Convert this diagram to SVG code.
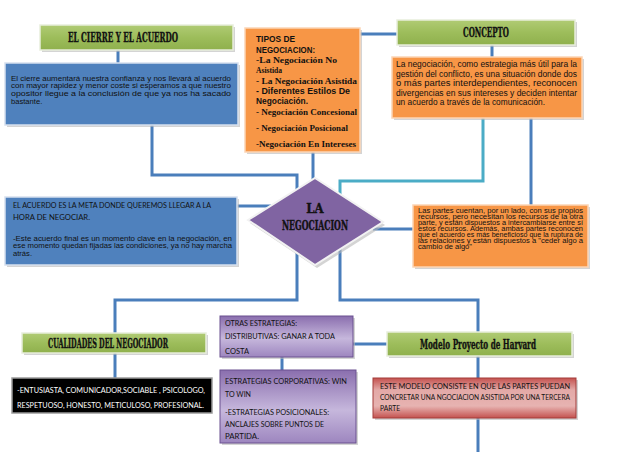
<svg xmlns="http://www.w3.org/2000/svg" width="638" height="452" viewBox="0 0 638 452">
<defs>
<linearGradient id="gGreen" x1="0" y1="0" x2="0" y2="1">
<stop offset="0" stop-color="#b0cb74"/><stop offset="0.5" stop-color="#9dbd5b"/><stop offset="1" stop-color="#8fb04d"/>
</linearGradient>
<linearGradient id="gPurple" x1="0" y1="0" x2="0" y2="1">
<stop offset="0" stop-color="#8a6eae"/><stop offset="0.55" stop-color="#c6b7dc"/><stop offset="1" stop-color="#9d86bf"/>
</linearGradient>
<linearGradient id="gRed" x1="0" y1="0" x2="0" y2="1">
<stop offset="0" stop-color="#c4524f"/><stop offset="0.3" stop-color="#e3a9a7"/><stop offset="0.7" stop-color="#e7b3b1"/><stop offset="1" stop-color="#c4524f"/>
</linearGradient>
</defs>
<style>
.sh{fill:#b8b8b8;opacity:0.6}
.green{fill:url(#gGreen);stroke:#e8eedc;stroke-width:1.5}
.blue{fill:#4f81bd;stroke:#d6e0ee;stroke-width:1.5}
.orange{fill:#f79646;stroke:#fcd5b5;stroke-width:1.5}
.purple{fill:url(#gPurple);stroke:#6a5190;stroke-width:1}
.red{fill:url(#gRed);stroke:#a33d3a;stroke-width:1}
.black{fill:#000;stroke:#9a9a9a;stroke-width:1.5}
.title{font-family:"DejaVu Serif Condensed","DejaVu Serif","Liberation Serif",serif;font-weight:bold;font-stretch:condensed;fill:#111;stroke:#111;stroke-width:0.35;text-anchor:middle}
.sans{font-family:"Liberation Sans",Arial,sans-serif;fill:#111}
.sansb{font-family:"Liberation Sans",Arial,sans-serif;font-weight:bold;fill:#111}
.serb{font-family:"Liberation Serif","Times New Roman",serif;font-weight:bold;fill:#111}
.cal{font-family:Lato,"Open Sans",sans-serif;fill:#111}
.calw{font-family:Lato,"Open Sans",sans-serif;fill:#fff}
.con{fill:none;stroke:#4a7ebb;stroke-width:3}
.cyan{fill:none;stroke:#4bacc6;stroke-width:3}
</style>

<g id="connectors">
<path class="con" d="M118,50 V63"/>
<path class="con" d="M152,125 V175 H297 V190"/>
<path class="con" d="M237,206 H271"/>
<path class="con" d="M313,152 V180"/>
<path class="con" d="M360,34 H397"/>
<path class="con" d="M492,45 V57"/>
<path class="cyan" d="M483,118 V181 H340 V195"/>
<path class="con" d="M531,118 V205"/>
<path class="con" d="M373,229 H413"/>
<path class="con" d="M297,253 V300 H115 V333"/>
<path class="con" d="M340,249 V300 H478 V332"/>
<path class="con" d="M115,353 V378"/>
<path class="con" d="M282,357 V370"/>
<path class="con" d="M353,344 H387"/>
<path class="con" d="M478,356 V378"/>
<path class="con" d="M478,418 V452"/>
</g>

<g id="cierre-title">
<rect class="sh" x="42" y="27" width="193" height="25"/>
<rect class="green" x="40" y="25" width="193" height="25"/>
<text class="title" x="123" y="42" font-size="13" textLength="110" lengthAdjust="spacingAndGlyphs">EL CIERRE Y EL ACUERDO</text>
</g>

<g id="cierre-text">
<rect class="sh" x="7" y="65" width="233" height="62"/>
<rect class="blue" x="5" y="63" width="233" height="62"/>
<text class="sans" font-size="7.6">
<tspan x="11" y="80.5" textLength="220" lengthAdjust="spacingAndGlyphs">El cierre aumentará nuestra confianza y nos llevará al acuerdo</tspan>
<tspan x="11" y="88" textLength="220" lengthAdjust="spacingAndGlyphs">con mayor rapidez y menor coste si esperamos a que nuestro</tspan>
<tspan x="11" y="95.5" textLength="220" lengthAdjust="spacingAndGlyphs">opositor llegue a la conclusión de que ya nos ha sacado</tspan>
<tspan x="11" y="103.5">bastante.</tspan>
</text>
</g>

<g id="tipos">
<rect class="sh" x="247" y="30" width="115" height="124"/>
<rect class="orange" x="245" y="28" width="115" height="124"/>
<text class="sansb" font-size="9.6" x="256" y="42" textLength="39" lengthAdjust="spacingAndGlyphs">TIPOS DE</text>
<text class="sansb" font-size="9.6" x="256" y="53" textLength="59" lengthAdjust="spacingAndGlyphs">NEGOCIACION:</text>
<text class="serb" font-size="9" x="256" y="63" textLength="81" lengthAdjust="spacingAndGlyphs">-La Negociación No</text>
<text class="serb" font-size="9" x="256" y="73" textLength="26" lengthAdjust="spacingAndGlyphs">Asistida</text>
<text class="serb" font-size="9" x="256" y="83.5" textLength="101" lengthAdjust="spacingAndGlyphs">- La Negociación Asistida</text>
<text class="sansb" font-size="9" x="256" y="94" textLength="94" lengthAdjust="spacingAndGlyphs">- Diferentes Estilos De</text>
<text class="sansb" font-size="9" x="256" y="104" textLength="52" lengthAdjust="spacingAndGlyphs">Negociación.</text>
<text class="serb" font-size="9" x="256" y="114.5" textLength="101" lengthAdjust="spacingAndGlyphs">- Negociación Concesional</text>
<text class="serb" font-size="9" x="256" y="131" textLength="92" lengthAdjust="spacingAndGlyphs">- Negociación Posicional</text>
<text class="serb" font-size="9" x="256" y="147" textLength="100" lengthAdjust="spacingAndGlyphs">-Negociación En Intereses</text>
</g>

<g id="concepto-title">
<rect class="sh" x="399" y="22" width="178" height="25"/>
<rect class="green" x="397" y="20" width="178" height="25"/>
<text class="title" x="486" y="36.5" font-size="13" textLength="46" lengthAdjust="spacingAndGlyphs">CONCEPTO</text>
</g>

<g id="concepto-text">
<rect class="sh" x="394" y="59" width="190" height="61"/>
<rect class="orange" x="392" y="57" width="190" height="61"/>
<text class="sans" font-size="8.4">
<tspan x="396" y="67" textLength="181" lengthAdjust="spacingAndGlyphs">La negociación, como estrategia más útil para la</tspan>
<tspan x="396" y="76.5" textLength="181" lengthAdjust="spacingAndGlyphs">gestión del conflicto, es una situación donde dos</tspan>
<tspan x="396" y="86" textLength="181" lengthAdjust="spacingAndGlyphs">o más partes interdependientes, reconocen</tspan>
<tspan x="396" y="95.5" textLength="181" lengthAdjust="spacingAndGlyphs">divergencias en sus intereses y deciden intentar</tspan>
<tspan x="396" y="105" textLength="149" lengthAdjust="spacingAndGlyphs">un acuerdo a través de la comunicación.</tspan>
</text>
</g>

<g id="acuerdo-meta">
<rect class="sh" x="7" y="199" width="232" height="68"/>
<rect class="blue" x="5" y="197" width="232" height="68"/>
<text class="cal" font-size="7.2" x="13" y="207.5" textLength="198" lengthAdjust="spacingAndGlyphs">EL ACUERDO ES LA META DONDE QUEREMOS LLEGAR A LA</text>
<text class="cal" font-size="7.2" x="13" y="219.5" textLength="77" lengthAdjust="spacingAndGlyphs">HORA DE NEGOCIAR.</text>
<text class="sans" font-size="7.6">
<tspan x="13" y="240.5" textLength="219" lengthAdjust="spacingAndGlyphs">-Este acuerdo final es un momento clave en la negociación, en</tspan>
<tspan x="13" y="248" textLength="219" lengthAdjust="spacingAndGlyphs">ese momento quedan fijadas las condiciones, ya no hay marcha</tspan>
<tspan x="13" y="256">atrás.</tspan>
</text>
</g>

<g id="la-negociacion">
<polygon points="250,223 317,181 385,225 317,268" fill="#b8b8b8" opacity="0.6"/>
<polygon points="248,220 315,178 383,222 315,265" fill="#8064a2" stroke="#f2f2f2" stroke-width="2"/>
<text class="title" x="315" y="212.5" font-size="13">LA</text>
<text class="title" x="315" y="229.5" font-size="13" textLength="66" lengthAdjust="spacingAndGlyphs">NEGOCIACION</text>
</g>

<g id="partes">
<rect class="sh" x="415" y="207" width="175" height="62"/>
<rect class="orange" x="413" y="205" width="175" height="62"/>
<text class="sans" font-size="6.8">
<tspan x="418" y="212.5" textLength="165" lengthAdjust="spacingAndGlyphs">Las partes cuentan, por un lado, con sus propios</tspan>
<tspan x="418" y="218.6" textLength="165" lengthAdjust="spacingAndGlyphs">recursos, pero necesitan los recursos de la otra</tspan>
<tspan x="418" y="224.7" textLength="165" lengthAdjust="spacingAndGlyphs">parte, y están dispuestos a intercambiarse entre sí</tspan>
<tspan x="418" y="230.8" textLength="165" lengthAdjust="spacingAndGlyphs">estos recursos. Además, ambas partes reconocen</tspan>
<tspan x="418" y="236.9" textLength="165" lengthAdjust="spacingAndGlyphs">que el acuerdo es más beneficioso que la ruptura de</tspan>
<tspan x="418" y="243" textLength="165" lengthAdjust="spacingAndGlyphs">las relaciones y están dispuestos a "ceder algo a</tspan>
<tspan x="418" y="249.3" textLength="54" lengthAdjust="spacingAndGlyphs">cambio de algo"</tspan>
</text>
</g>

<g id="cualidades-title">
<rect class="sh" x="24" y="335" width="184" height="20"/>
<rect class="green" x="22" y="333" width="184" height="20"/>
<text class="title" x="108" y="348" font-size="12" textLength="120" lengthAdjust="spacingAndGlyphs">CUALIDADES DEL NEGOCIADOR</text>
</g>

<g id="cualidades-text">
<rect class="black" x="12" y="378" width="200" height="35"/>
<text class="calw" font-size="7.3" x="17" y="393" textLength="188" lengthAdjust="spacingAndGlyphs">-ENTUSIASTA, COMUNICADOR,SOCIABLE , PSICOLOGO,</text>
<text class="calw" font-size="7.3" x="17" y="408" textLength="187" lengthAdjust="spacingAndGlyphs">RESPETUOSO, HONESTO, METICULOSO, PROFESIONAL.</text>
</g>

<g id="otras">
<rect class="sh" x="222" y="318" width="133" height="41"/>
<rect class="purple" x="220" y="316" width="133" height="41"/>
<text class="cal" font-size="7" x="225" y="325.5" textLength="72" lengthAdjust="spacingAndGlyphs">OTRAS ESTRATEGIAS:</text>
<text class="cal" font-size="7" x="225" y="338.5" textLength="110" lengthAdjust="spacingAndGlyphs">DISTRIBUTIVAS: GANAR A TODA</text>
<text class="cal" font-size="7" x="225" y="353.5" textLength="24" lengthAdjust="spacingAndGlyphs">COSTA</text>
</g>

<g id="corporativas">
<rect class="sh" x="222" y="372" width="136" height="73"/>
<rect class="purple" x="220" y="370" width="136" height="73"/>
<text class="cal" font-size="7" x="225" y="384" textLength="122" lengthAdjust="spacingAndGlyphs">ESTRATEGIAS CORPORATIVAS: WIN</text>
<text class="cal" font-size="7" x="225" y="397" textLength="26" lengthAdjust="spacingAndGlyphs">TO WIN</text>
<text class="cal" font-size="7" x="225" y="415" textLength="104" lengthAdjust="spacingAndGlyphs">-ESTRATEGIAS POSICIONALES:</text>
<text class="cal" font-size="7" x="225" y="426.5" textLength="99" lengthAdjust="spacingAndGlyphs">ANCLAJES SOBRE PUNTOS DE</text>
<text class="cal" font-size="7" x="225" y="439" textLength="34" lengthAdjust="spacingAndGlyphs">PARTIDA.</text>
</g>

<g id="harvard-title">
<rect class="sh" x="389" y="334" width="185" height="24"/>
<rect class="green" x="387" y="332" width="185" height="24"/>
<text class="title" x="478" y="349" font-size="12.5" textLength="116" lengthAdjust="spacingAndGlyphs">Modelo Proyecto de Harvard</text>
</g>

<g id="harvard-text">
<rect class="sh" x="375" y="380" width="203" height="40"/>
<rect class="red" x="373" y="378" width="203" height="40"/>
<text class="cal" font-size="7" x="380" y="388.5" textLength="190" lengthAdjust="spacingAndGlyphs">ESTE MODELO CONSISTE EN QUE LAS PARTES PUEDAN</text>
<text class="cal" font-size="7" x="380" y="399.5" textLength="190" lengthAdjust="spacingAndGlyphs">CONCRETAR UNA NGOCIACION ASISTIDA POR  UNA TERCERA</text>
<text class="cal" font-size="7" x="380" y="410.5" textLength="20" lengthAdjust="spacingAndGlyphs">PARTE</text>
</g>
</svg>
